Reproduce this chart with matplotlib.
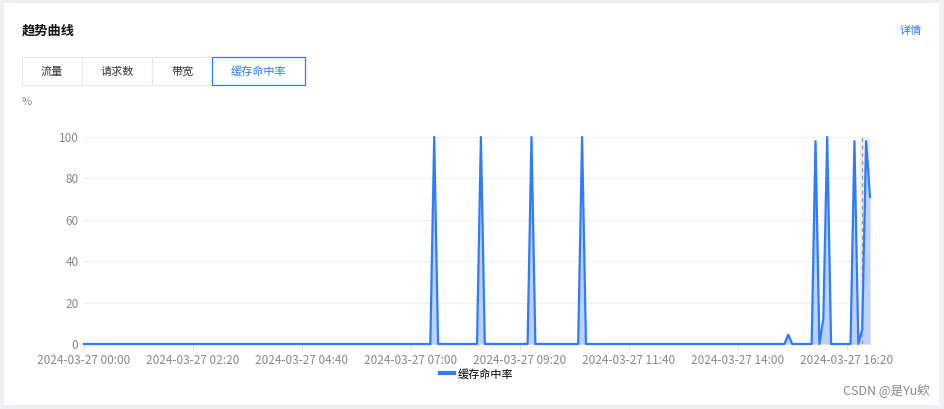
import matplotlib.pyplot as plt
from matplotlib.patches import Rectangle

plt.rcParams['font.family'] = ['Noto Sans CJK SC', 'DejaVu Sans']

# 5-minute samples, 00:00 .. 16:50 (minutes since midnight)
step = 5
n_points = 203
# samples that are not 0 (minute -> hit rate %)
spike_min = [450, 510, 575, 640, 905, 940, 950, 955, 990, 1000, 1005, 1010]
spike_val = [100, 100, 100, 100, 4.5, 98, 12, 100, 98, 7, 98, 71]
hover_min = 1000

tick_min = [0, 140, 280, 420, 560, 700, 840, 980]
tick_lab = ['2024-03-27 00:00', '2024-03-27 02:20', '2024-03-27 04:40',
            '2024-03-27 07:00', '2024-03-27 09:20', '2024-03-27 11:40',
            '2024-03-27 14:00', '2024-03-27 16:20']
tabs = ['流量', '请求数', '带宽', '缓存命中率']

t = [i * step for i in range(n_points)]
v = [0.0] * n_points
for m, val in zip(spike_min, spike_val):
    v[m // step] = val

W, H = 945, 409
fig = plt.figure(figsize=(W / 100, H / 100), dpi=100)
fig.patch.set_facecolor('#eef0f3')

# background card + header in pixel coords
bg = fig.add_axes([0, 0, 1, 1])
bg.set_xlim(0, W)
bg.set_ylim(H, 0)
bg.axis('off')
bg.add_patch(Rectangle((4, 3), 935, 402, facecolor='white', edgecolor='none'))
bg.text(22, 31, '趋势曲线', fontsize=9.5, fontweight='bold', color='#111111', va='center')
bg.text(922, 31, '详情', fontsize=8, color='#2f7bff', va='center', ha='right')

tab_x = [22, 82, 152, 212, 305]
for i, name in enumerate(tabs):
    x0, x1 = tab_x[i], tab_x[i + 1]
    sel = i == len(tabs) - 1
    if not sel:
        bg.add_patch(Rectangle((x0, 57), x1 - x0, 28, facecolor='white',
                               edgecolor='#e6e6e6', lw=0.8))
for i, name in enumerate(tabs):
    x0, x1 = tab_x[i], tab_x[i + 1]
    sel = i == len(tabs) - 1
    if sel:
        bg.add_patch(Rectangle((x0, 57), x1 - x0, 28, facecolor='white',
                               edgecolor='#2f7bff', lw=0.9))
    bg.text((x0 + x1) / 2, 71.5, name, fontsize=8, ha='center', va='center',
            color='#2f7bff' if sel else '#333333')
bg.text(22, 102, '%', fontsize=8, color='#888888', va='center')
bg.text(930, 391, 'CSDN @是Yu欸', fontsize=9, color='#888888', ha='right', va='center')

ax = fig.add_axes([84 / W, 1 - 344 / H, (870 - 84) / W, (344 - 137) / H])
ax.set_facecolor('none')
ax.axvspan(hover_min - 2.5, t[-1], color='#ececec', zorder=0)
ax.fill_between(t, v, 0, color='#bcd2fb', zorder=1, lw=0)
ax.plot(t, v, color='#2f7bff', lw=1.6, zorder=3, label='缓存命中率', clip_on=False)
ax.axvline(hover_min, color='#999999', lw=0.9, ls=(0, (3, 3)), zorder=2)

ax.set_xlim(0, t[-1])
ax.set_ylim(0, 100)
ax.set_yticks([0, 20, 40, 60, 80, 100])
ax.set_xticks(tick_min)
ax.set_xticklabels(tick_lab)
ax.grid(axis='y', color='#f0f0f0', lw=0.8)
ax.set_axisbelow(True)
for s in ['top', 'right', 'left']:
    ax.spines[s].set_visible(False)
ax.spines['bottom'].set_color('#e0e0e0')
ax.tick_params(axis='y', length=0, pad=4, labelsize=8.5, labelcolor='#888888')
ax.tick_params(axis='x', length=4, color='#e0e0e0', pad=3, labelsize=8.5, labelcolor='#888888')

leg = ax.legend(loc='upper center', bbox_to_anchor=(0.5, -0.07), frameon=False,
                fontsize=8, handlelength=1.2, handletextpad=0.4)
for line in leg.get_lines():
    line.set_linewidth(3)

fig.savefig('out.png', dpi=100, facecolor=fig.get_facecolor())
